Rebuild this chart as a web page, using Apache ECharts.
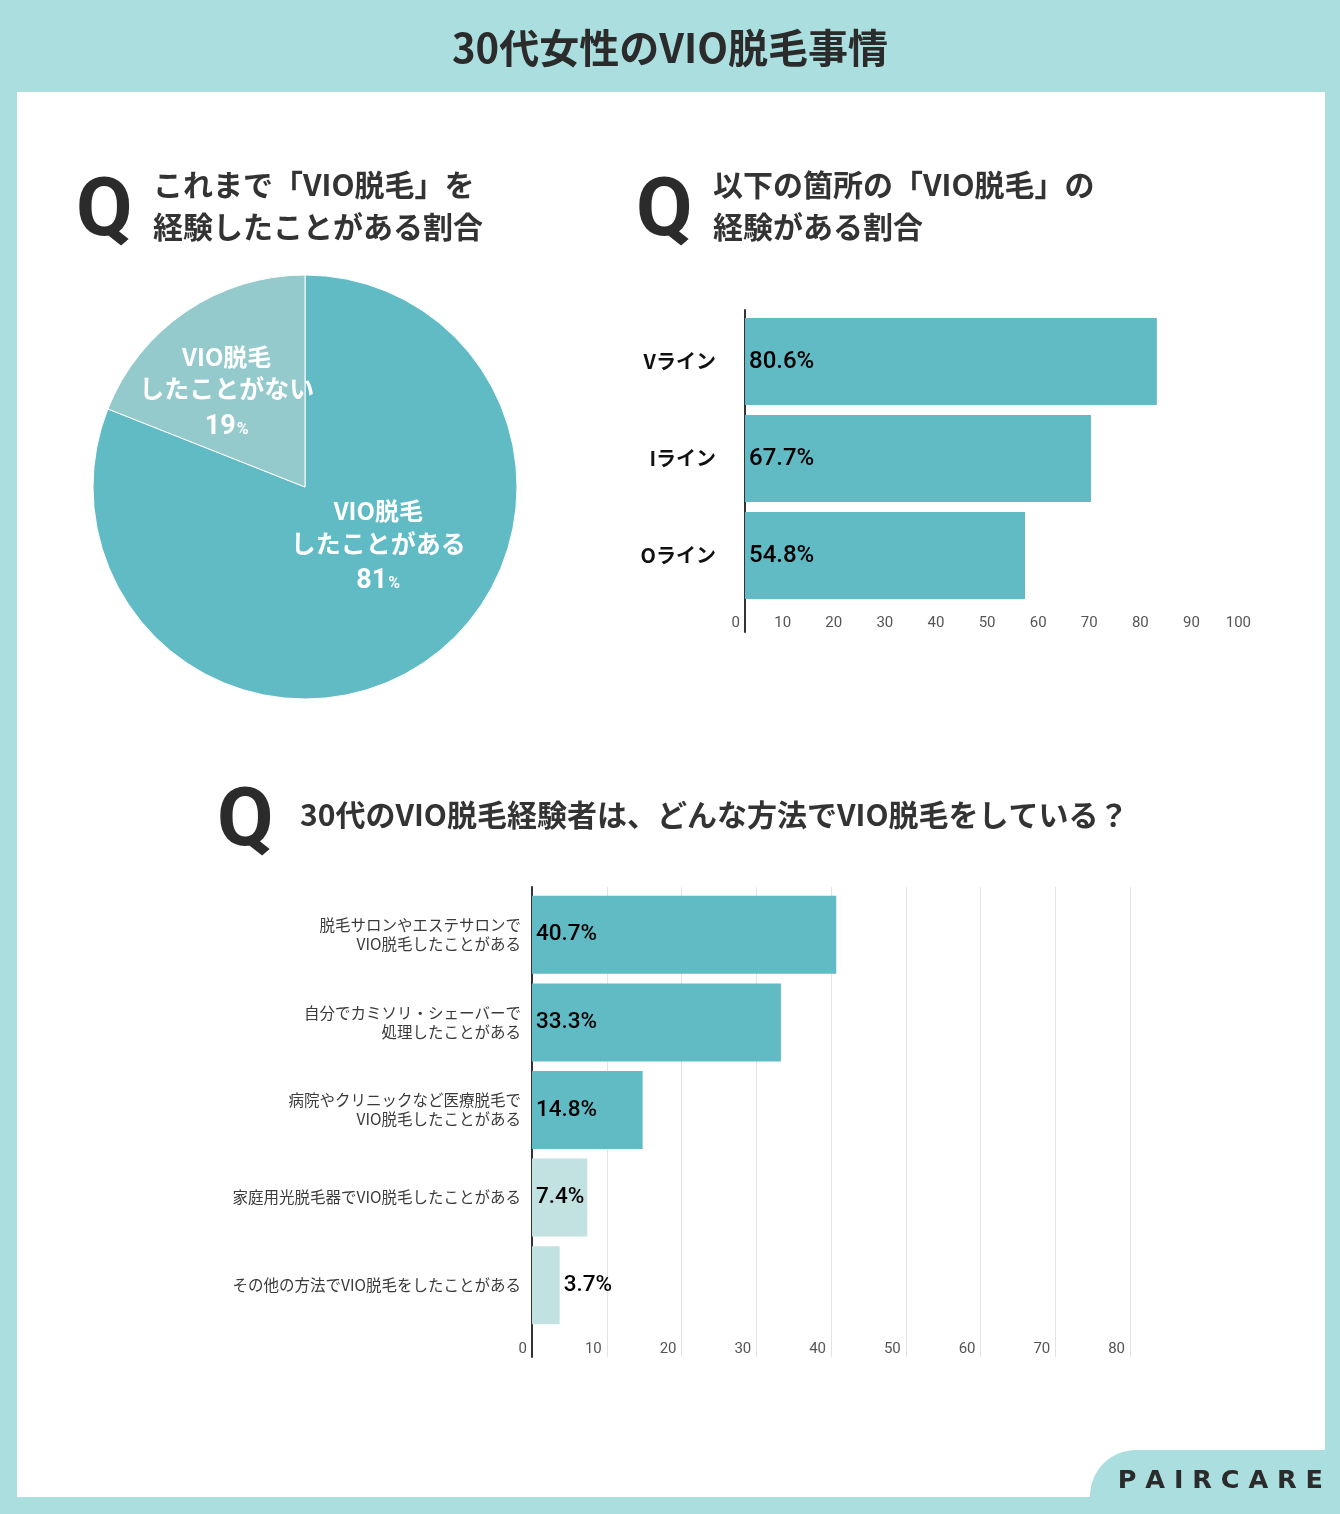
<!DOCTYPE html>
<html>
<head>
<meta charset="utf-8">
<script src="https://cdn.jsdelivr.net/npm/echarts@6/dist/echarts.min.js"></script>
<style>
html,body{margin:0;padding:0;background:#ABDEDF;}
#main{width:1340px;height:1514px;}
</style>
</head>
<body>
<div id="main"></div>
<script>
// ---- data ----
const pieLabels = ['VIO脱毛\nしたことがある', 'VIO脱毛\nしたことがない'];
const pieValues = [81, 19];

const areaCategories = ['Vライン', 'Iライン', 'Oライン'];
const areaValues = [80.6, 67.7, 54.8];
const areaTicks = [0, 10, 20, 30, 40, 50, 60, 70, 80, 90, 100];

const methodCategories = [
  '脱毛サロンやエステサロンで\nVIO脱毛したことがある',
  '自分でカミソリ・シェーバーで\n処理したことがある',
  '病院やクリニックなど医療脱毛で\nVIO脱毛したことがある',
  '家庭用光脱毛器でVIO脱毛したことがある',
  'その他の方法でVIO脱毛をしたことがある'
];
const methodValues = [40.7, 33.3, 14.8, 7.4, 3.7];
const methodTicks = [0, 10, 20, 30, 40, 50, 60, 70, 80];

// ---- styles ----
const JP = '"Noto Sans CJK JP", "Noto Sans", sans-serif';
const NUM = 'Roboto, "Noto Sans", sans-serif';
const TEAL = '#60BBC4';
const TEAL_LIGHT_PIE = '#95CACC';
const TEAL_LIGHT_BAR = '#C1E2E1';
const BORDER = '#ABDEDF';
const DARK = '#2b2b2b';

const chart = echarts.init(document.getElementById('main'), null, {renderer: 'canvas'});

function qHeader(x, y, lines, qx, qy) {
  const els = [{
    type: 'text', left: qx, top: qy,
    style: {text: 'Q', font: 'bold 82px ' + NUM, fill: DARK}
  }];
  lines.forEach((t, i) => {
    els.push({
      type: 'text', x: x, y: y + i * 42,
      style: {text: t, font: 'bold 30px ' + JP, fill: '#333', textAlign: 'left', textVerticalAlign: 'middle'}
    });
  });
  return els;
}

const graphics = [
  {type: 'rect', shape: {x: 17, y: 92, width: 1308, height: 1405}, style: {fill: '#fff'}, z: -10},
  {type: 'text', x: 670, y: 48, style: {text: '30代女性のVIO脱毛事情', font: 'bold 40px ' + JP, fill: DARK, textAlign: 'center', textVerticalAlign: 'middle'}},
  ...qHeader(153, 185, ['これまで「VIO脱毛」を', '経験したことがある割合'], 76, 173),
  ...qHeader(713, 185, ['以下の箇所の「VIO脱毛」の', '経験がある割合'], 636, 173),
  ...qHeader(300, 815, ['30代のVIO脱毛経験者は、どんな方法でVIO脱毛をしている？'], 217, 783),
  {type: 'rect', shape: {x: 1090, y: 1450, width: 260, height: 70, r: [46, 0, 0, 0]}, style: {fill: BORDER}, z: 5},
  {type: 'text', x: 1323, y: 1481, z: 6, style: {text: 'P A I R C A R E', font: 'bold 25.5px "DejaVu Sans", sans-serif', fill: DARK, textAlign: 'right', textVerticalAlign: 'middle'}}
];

const pieOffsets = [[12, -32], [-17, -6]];

const option = {
  backgroundColor: BORDER,
  animation: false,
  graphic: graphics,
  grid: [
    {left: 745, top: 310, width: 511, height: 322, containLabel: false},
    {left: 745, top: 313, width: 511, height: 291, containLabel: false},
    {left: 532, top: 887, width: 598, height: 470, containLabel: false},
    {left: 532, top: 891, width: 598, height: 438, containLabel: false}
  ],
  xAxis: [
    {gridIndex: 0, type: 'value', min: areaTicks[0], max: areaTicks[areaTicks.length - 1], interval: 10,
     axisLine: {show: false, onZero: false}, axisTick: {show: false}, splitLine: {show: false},
     axisLabel: {inside: true, margin: 1, align: 'right', padding: [0, 5, 0, 0], color: '#555', fontSize: 15, fontFamily: NUM}},
    {gridIndex: 1, type: 'value', min: 0, max: areaTicks[areaTicks.length - 1], show: false},
    {gridIndex: 2, type: 'value', min: methodTicks[0], max: methodTicks[methodTicks.length - 1], interval: 10,
     axisLine: {show: false, onZero: false}, axisTick: {show: false},
     splitLine: {show: true, lineStyle: {color: '#e3e3e3', width: 1}},
     axisLabel: {inside: true, margin: 0, align: 'right', padding: [0, 5, 0, 0], color: '#555', fontSize: 15, fontFamily: NUM}},
    {gridIndex: 3, type: 'value', min: 0, max: methodTicks[methodTicks.length - 1], show: false}
  ],
  yAxis: [
    {gridIndex: 0, type: 'value', min: 0, max: 1, axisLine: {show: true, onZero: false, lineStyle: {color: '#333', width: 2}},
     axisTick: {show: false}, axisLabel: {show: false}, splitLine: {show: false}},
    {gridIndex: 1, type: 'category', inverse: true, data: areaCategories,
     axisLine: {show: false}, axisTick: {show: false},
     axisLabel: {margin: 29, color: '#111', fontSize: 20, fontWeight: 'bold', fontFamily: JP}},
    {gridIndex: 2, type: 'value', min: 0, max: 1, axisLine: {show: true, onZero: false, lineStyle: {color: '#333', width: 2}},
     axisTick: {show: false}, axisLabel: {show: false}, splitLine: {show: false}},
    {gridIndex: 3, type: 'category', inverse: true, data: methodCategories,
     axisLine: {show: false}, axisTick: {show: false},
     axisLabel: {margin: 11, color: '#3a3a3a', fontSize: 15.5, lineHeight: 19, fontFamily: JP, align: 'right'}}
  ],
  series: [
    {
      type: 'pie', center: [305, 487], radius: 212, startAngle: 90, clockwise: true,
      data: pieValues.map((v, i) => ({name: pieLabels[i], value: v,
        itemStyle: {color: i === 0 ? TEAL : TEAL_LIGHT_PIE}})),
      itemStyle: {borderColor: '#fff', borderWidth: 1},
      label: {
        show: true, position: 'inside', color: '#fff', fontFamily: JP, fontWeight: 'bold',
        formatter: p => {
          const [l1, l2] = p.name.split('\n');
          return '{a|' + l1 + '}\n{b|' + l2 + '}\n{n|' + p.value + '}{p|%}';
        },
        rich: {
          a: {fontSize: 24, fontWeight: 'bold', color: '#fff', fontFamily: JP, lineHeight: 32, align: 'center'},
          b: {fontSize: 25, fontWeight: 'bold', color: '#fff', fontFamily: JP, lineHeight: 32, align: 'center'},
          n: {fontSize: 27, fontWeight: 'bold', color: '#fff', fontFamily: NUM, lineHeight: 36, verticalAlign: 'bottom'},
          p: {fontSize: 16, fontWeight: 'bold', color: '#fff', fontFamily: NUM, lineHeight: 36, verticalAlign: 'bottom', padding: [0, 0, 3, 1]}
        }
      },
      labelLayout: p => ({dx: pieOffsets[p.dataIndex][0], dy: pieOffsets[p.dataIndex][1]}),
      labelLine: {show: false},
      emphasis: {disabled: true}
    },
    {
      type: 'bar', xAxisIndex: 1, yAxisIndex: 1, barWidth: 87,
      data: areaValues,
      itemStyle: {color: TEAL},
      label: {show: true, position: 'insideLeft', distance: 4, color: '#000', fontSize: 24, fontWeight: 500, fontFamily: NUM,
        formatter: p => p.value + '%'}
    },
    {
      type: 'bar', xAxisIndex: 3, yAxisIndex: 3, barWidth: 78,
      data: methodValues.map((v, i) => ({
        value: v,
        itemStyle: {color: i < 3 ? TEAL : TEAL_LIGHT_BAR},
        label: {position: i < 4 ? 'insideLeft' : 'right'}
      })),
      label: {show: true, distance: 4, color: '#000', fontSize: 22.5, fontWeight: 500, fontFamily: NUM,
        formatter: p => p.value + '%'}
    }
  ]
};
chart.setOption(option);
</script>
</body>
</html>
